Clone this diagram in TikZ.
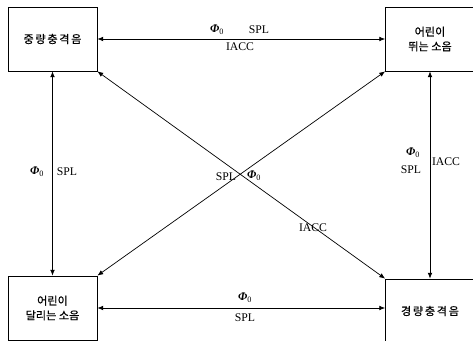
\documentclass[tikz,border=0pt]{standalone}
\usepackage{fontspec}
\setmainfont{Liberation Serif}
\newfontfamily\kor[FakeBold=0.6]{Noto Sans CJK KR}
\newfontfamily\korwide[FakeBold=0.6,LetterSpace=15]{Noto Sans CJK KR}
\usetikzlibrary{positioning}
\usetikzlibrary{arrows.meta}
\newcommand{\phio}{{\bfseries\itshape Φ}\textsubscript{0}}
\tikzset{
    soundbox/.style = {rectangle, draw=black, line width=0.6pt, align=center, minimum width=89*0.03cm, minimum height=64*0.03cm, font=\kor\fontsize{9.5}{12.5}\selectfont},
    lbl/.style = {inner sep=1pt, font=\fontsize{10}{11}\selectfont},
    edgen/.style = {{Latex[length=5pt,width=4pt]}-{Latex[length=5pt,width=4pt]}, line width=0.6pt},
}
\begin{document}
\begin{tikzpicture}[x=0.03cm,y=-0.03cm]
\useasboundingbox (0,0) rectangle (473,341);
\clip (0,0) rectangle (473,341);
\node[soundbox] at (52.5, 39) (heavy) {\korwide 중량충격음};
\node[soundbox] at (430, 39) (run) {어린이\\뛰는 소음};
\node[soundbox] at (52.5, 308) (walk) {어린이\\달리는 소음};
\node[soundbox] at (430, 311) (light) {\korwide 경량충격음};

\draw[edgen] (heavy.east) -- (heavy.east -| run.west);
\draw[edgen] (heavy) -- (walk);
\draw[edgen] (run) -- (light);
\draw[edgen] (walk.east) -- (walk.east -| light.west);
\draw[edgen] (heavy.south east) -- (light.north west);
\draw[edgen] (run.south west) -- (walk.north east);

% labels
\node[lbl] at (217, 30) (top phi) {\phio};
\node[lbl] at (259, 30) (top spl) {SPL};
\node[lbl] at (240, 47) (top iacc) {IACC};
\node[lbl] at (37, 172) (left phi) {\phio};
\node[lbl] at (67, 172) (left spl) {SPL};
\node[lbl] at (413, 153) (right phi) {\phio};
\node[lbl] at (411, 170) (right spl) {SPL};
\node[lbl] at (446, 162) (right iacc) {IACC};
\node[lbl] at (245, 298) (bot phi) {\phio};
\node[lbl] at (245, 318) (bot spl) {SPL};
\node[lbl] at (226, 177) (mid spl) {SPL};
\node[lbl] at (254, 176) (mid phi) {\phio};
\node[lbl] at (313, 228) (mid iacc) {IACC};
\end{tikzpicture}
\end{document}
